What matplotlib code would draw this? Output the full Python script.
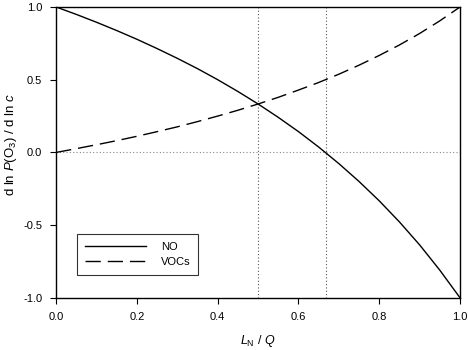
import matplotlib
matplotlib.use("Agg")
import matplotlib.pyplot as plt

plt.rcParams['font.family'] = ['Liberation Sans', 'DejaVu Sans']
plt.rcParams['mathtext.fontset'] = 'custom'
plt.rcParams['mathtext.rm'] = 'Liberation Sans'
plt.rcParams['mathtext.it'] = 'Liberation Sans:italic'

x = [0.0, 0.05, 0.1, 0.15, 0.2, 0.25, 0.3, 0.35, 0.4, 0.45, 0.5,
     0.55, 0.6, 0.65, 0.7, 0.75, 0.8, 0.85, 0.9, 0.95, 1.0]
no_vals = [1.0, 0.949, 0.895, 0.838, 0.778, 0.714, 0.647, 0.576, 0.5, 0.419, 0.333,
           0.241, 0.143, 0.037, -0.077, -0.2, -0.333, -0.478, -0.636, -0.810, -1.0]
voc_vals = [0.0, 0.026, 0.053, 0.081, 0.111, 0.143, 0.176, 0.212, 0.25, 0.290, 0.333,
            0.379, 0.429, 0.481, 0.538, 0.6, 0.667, 0.739, 0.818, 0.905, 1.0]
vlines = [0.5, 0.667]
xticks = [0.0, 0.2, 0.4, 0.6, 0.8, 1.0]
yticks = [-1.0, -0.5, 0.0, 0.5, 1.0]

fig = plt.figure(figsize=(4.68, 3.5), dpi=100)
ax = fig.add_axes([0.12, 0.149, 0.863, 0.831])

for v in vlines:
    ax.axvline(v, color='#555555', lw=0.8, ls=(0, (1, 2)))
ax.axhline(0.0, color='#888888', lw=0.8, ls=(0, (1, 2)))

ax.plot(x, no_vals, color='black', lw=1.0, label='NO')
ax.plot(x, voc_vals, color='black', lw=1.0, ls=(0, (11, 5)), label='VOCs')

ax.set_xlim(0, 1)
ax.set_ylim(-1, 1)
ax.set_xticks(xticks)
ax.set_yticks(yticks)
ax.set_xticklabels([f"{t:.1f}" for t in xticks])
ax.set_yticklabels([f"{t:.1f}" for t in yticks])
ax.tick_params(direction='out', length=4, width=0.8, labelsize=8, pad=6)
for s in ax.spines.values():
    s.set_linewidth(1.0)

ax.set_xlabel(r'$L_\mathrm{N}$ / $Q$', fontsize=9, labelpad=8)
ax.set_ylabel(r'd ln $P$(O$_3$) / d ln $c$', fontsize=9.5)
ax.yaxis.set_label_coords(-0.093, 0.526)

leg = ax.legend(loc='lower left', bbox_to_anchor=(0.052, 0.079), borderaxespad=0,
                fontsize=8, frameon=True, fancybox=False, edgecolor='black',
                handlelength=5.5, borderpad=0.7, handletextpad=1.35,
                labelspacing=0.45)
leg.get_frame().set_linewidth(0.8)

fig.savefig('out.png', dpi=100)
